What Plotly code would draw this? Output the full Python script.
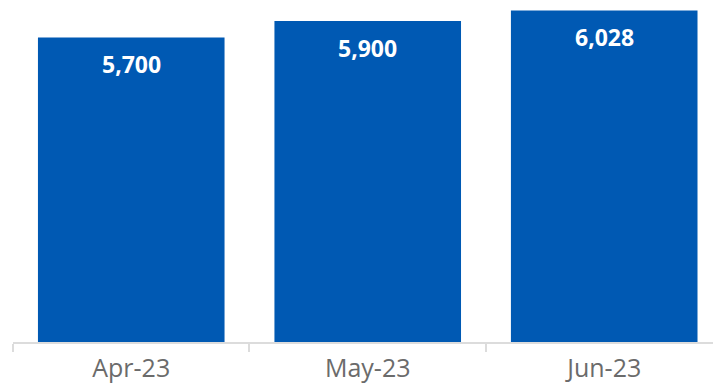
import plotly.graph_objects as go

categories = ["Apr-23", "May-23", "Jun-23"]
values = [5700, 5900, 6028]
labels = ["5,700", "5,900", "6,028"]

BAR_COLOR = "#0059B3"

fig = go.Figure()
fig.add_trace(go.Bar(
    x=categories, y=values, marker=dict(color=BAR_COLOR, line=dict(width=0)),
    hoverinfo="skip",
))

for c, v, t in zip(categories, values, labels):
    fig.add_annotation(x=c, y=v, xref="x", yref="y", text=t, showarrow=False,
                       yanchor="middle", yshift=-27,
                       font=dict(family="Open Sans", size=23, color="white", weight="bold"))

fig.update_layout(
    width=713, height=385,
    margin=dict(l=13, r=0, t=0, b=43, autoexpand=False),
    plot_bgcolor="white", paper_bgcolor="white",
    bargap=0.211, showlegend=False,
    xaxis=dict(
        type="category", range=[-0.5, 2.46], automargin=False,
        showline=True, linecolor="#dcdcdc", linewidth=2,
        ticks="outside", tickson="boundaries", ticklen=8, tickcolor="#dcdcdc", tickwidth=2,
        ticklabelstandoff=3,
        tickfont=dict(family="Open Sans", size=25, color="#6b6b6b"),
        showgrid=False, zeroline=False,
    ),
    yaxis=dict(range=[2000, 6155], visible=False, showgrid=False, zeroline=False),
)

fig.write_html("out.html", config={"displayModeBar": False},
               post_script="document.body.style.margin='0px';")
